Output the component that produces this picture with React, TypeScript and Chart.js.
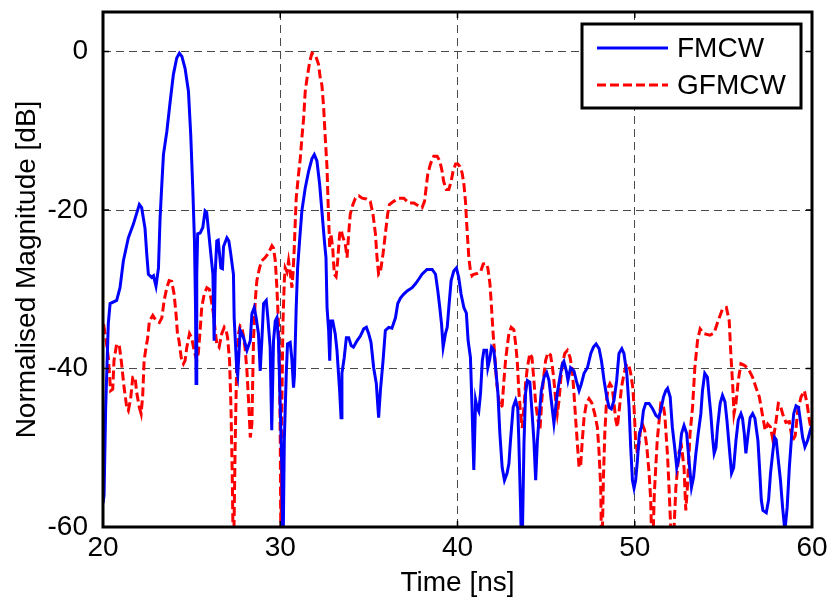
import React, { useEffect, useRef } from "react";
import { Chart, registerables } from "chart.js";

Chart.register(...registerables);

const xTicks = [20, 30, 40, 50, 60];
const yTicks = [-60, -40, -20, 0];
const seriesLabels = ["FMCW", "GFMCW"];
const xTitle = "Time [ns]";
const yTitle = "Normalised Magnitude [dB]";

const fmcwTime = [
  20.0, 20.06, 20.15, 20.3, 20.4, 20.77, 20.96, 21.15, 21.43, 21.71, 22.05, 22.18, 22.37, 22.47, 22.56, 22.75, 22.85, 22.99,
  23.13, 23.22, 23.32, 23.41, 23.6, 23.79, 23.97, 24.16, 24.31, 24.45, 24.63, 24.82, 24.95, 25.07, 25.16, 25.22, 25.25, 25.29,
  25.34, 25.48, 25.63, 25.76, 25.85, 26.05, 26.2, 26.27, 26.33, 26.42, 26.5, 26.65, 26.74, 26.8, 26.99, 27.1, 27.2, 27.36,
  27.4, 27.55, 27.6, 27.74, 27.93, 28.12, 28.31, 28.4, 28.53, 28.64, 28.77, 28.87, 28.96, 29.06, 29.21, 29.3, 29.43, 29.52,
  29.62, 29.72, 29.81, 29.9, 30.0, 30.1, 30.15, 30.23, 30.34, 30.41, 30.56, 30.65, 30.75, 30.8, 30.9, 30.98, 31.09, 31.22,
  31.41, 31.6, 31.79, 31.92, 32.07, 32.22, 32.35, 32.49, 32.58, 32.64, 32.73, 32.79, 32.86, 32.96, 33.1, 33.2, 33.35, 33.43,
  33.48, 33.61, 33.73, 33.86, 34.0, 34.13, 34.33, 34.52, 34.71, 34.86, 34.99, 35.12, 35.27, 35.42, 35.55, 35.65, 35.8, 35.93,
  36.12, 36.3, 36.5, 36.63, 36.78, 36.97, 37.16, 37.44, 37.63, 37.82, 38.0, 38.28, 38.57, 38.76, 38.89, 39.0, 39.1, 39.19,
  39.32, 39.42, 39.51, 39.64, 39.79, 39.94, 40.07, 40.2, 40.36, 40.5, 40.6, 40.73, 40.82, 40.92, 41.02, 41.1, 41.2, 41.3,
  41.4, 41.49, 41.64, 41.71, 41.82, 41.92, 42.05, 42.15, 42.28, 42.39, 42.52, 42.65, 42.8, 42.9, 42.99, 43.14, 43.28, 43.4,
  43.46, 43.56, 43.63, 43.75, 43.84, 43.94, 44.08, 44.21, 44.31, 44.41, 44.5, 44.6, 44.73, 44.88, 45.03, 45.16, 45.29, 45.44,
  45.54, 45.63, 45.78, 45.92, 46.0, 46.14, 46.23, 46.38, 46.57, 46.7, 46.86, 46.98, 47.14, 47.33, 47.52, 47.67, 47.82, 47.99,
  48.12, 48.27, 48.42, 48.55, 48.68, 48.83, 48.98, 49.11, 49.27, 49.39, 49.55, 49.68, 49.77, 49.87, 49.96, 50.05, 50.15, 50.26,
  50.38, 50.49, 50.62, 50.81, 50.99, 51.19, 51.34, 51.47, 51.62, 51.75, 51.85, 52.0, 52.12, 52.25, 52.37, 52.5, 52.64, 52.78,
  52.93, 53.06, 53.2, 53.32, 53.45, 53.58, 53.73, 53.82, 53.95, 54.1, 54.2, 54.29, 54.39, 54.48, 54.58, 54.67, 54.82, 54.95,
  55.09, 55.2, 55.33, 55.46, 55.58, 55.71, 55.84, 55.99, 56.08, 56.18, 56.27, 56.4, 56.51, 56.65, 56.78, 56.95, 57.04, 57.14,
  57.23, 57.42, 57.55, 57.66, 57.8, 57.89, 57.98, 58.1, 58.22, 58.34, 58.47, 58.6, 58.72, 58.86, 58.97, 59.1, 59.24, 59.34,
  59.47, 59.6, 59.75, 59.9, 60.0,
];
const fmcwDb = [
  -57, -56, -45, -34.3, -31.8, -31.4, -29.8, -26.4, -23.5, -21.8, -19.3, -19.7, -22.3, -25.6, -28.1, -28.5, -28.3, -29.6,
  -27.3, -21.0, -16.7, -13.0, -10.1, -6.3, -2.9, -0.8, -0.2, -0.6, -2.1, -5.0, -10.5, -17.6, -23.9, -32.3, -41.9, -28.1,
  -23.0, -22.9, -22.2, -20.1, -20.3, -24.8, -28.1, -36.5, -28, -23.9, -23.8, -27.3, -27.4, -24.6, -23.5, -23.9, -25.4, -28.1,
  -33.6, -40.3, -40.9, -35.2, -36.1, -37.7, -36.5, -33.1, -32.3, -33.6, -35.6, -40.3, -36.5, -31.8, -31.4, -33.6, -37.3, -47.8,
  -36.5, -34.0, -33.6, -36.5, -44.9, -53.2, -65, -49, -40.6, -36.9, -36.7, -38.7, -42.4, -40.9, -32.3, -27.3, -23.9, -20.1,
  -17.2, -15.1, -13.5, -13.0, -13.8, -16.7, -20.1, -23.9, -26.0, -32.3, -35.2, -39, -34, -34, -35.6, -37.7, -42.8, -46.2,
  -40.6, -38.6, -36.1, -36.1, -37.1, -37.3, -36.5, -35.9, -35.0, -34.8, -35.6, -36.7, -39.9, -41.9, -46.2, -42.8, -39, -35.2,
  -34.8, -34.9, -33.6, -31.8, -31.1, -30.6, -30.2, -29.8, -29.3, -28.7, -28.1, -27.5, -27.5, -28.1, -30.2, -32.3, -34.4, -37.3,
  -35.6, -34.8, -32.3, -28.9, -27.7, -27.3, -28.5, -30.6, -32.3, -33, -36.5, -38.6, -44.9, -52.8, -44, -44.9, -45.4, -43.1,
  -39, -37.7, -37.7, -39.9, -38.8, -37.3, -37.7, -39.9, -43.1, -48.2, -52.5, -54.1, -53.2, -52, -49.1, -44.9, -44, -45,
  -49.1, -57.5, -65, -49.5, -43.1, -41.5, -41.7, -45.7, -49.1, -54.1, -49.4, -46.2, -42.8, -41.1, -40.5, -41.5, -44, -46.9,
  -44.9, -43.1, -41.1, -39.4, -39.1, -40.3, -41.5, -39.9, -40.3, -41.5, -42.8, -42, -40.6, -39.9, -38.1, -37.3, -36.9, -37.5,
  -39, -41.5, -43.6, -44.9, -45.1, -44, -41.5, -38.1, -37.5, -38.1, -40.6, -44.9, -49.9, -54.1, -55.1, -54.1, -51.6, -48.2,
  -47.4, -45.3, -44.4, -44.4, -45, -45.9, -46.2, -45.3, -43.6, -42.8, -42.5, -43.6, -47.4, -49.9, -52.5, -51.2, -48.2, -47.2,
  -48.2, -51.6, -55, -53.7, -50.7, -48.2, -45.7, -42.8, -40.6, -41.1, -43.6, -45.7, -48.7, -50.7, -50, -47.4, -44.4, -43.4,
  -44.2, -46.5, -49.9, -53.2, -52.5, -49.1, -46.5, -45.7, -46.3, -48.2, -50.7, -48.2, -46.2, -45.7, -46.3, -49.1, -52.5, -56.6,
  -57.9, -58.2, -56.6, -53.2, -50.3, -48.7, -49, -51.6, -54.1, -57.5, -60.5, -57.5, -52.5, -48.2, -45.7, -44.7, -44.9, -46.5,
  -48.7, -49.9, -49.1, -47.8, -47.2,
];

const gfmcwTime = [
  20.0, 20.06, 20.15, 20.3, 20.43, 20.55, 20.62, 20.77, 20.92, 21.05, 21.19, 21.34, 21.43, 21.56, 21.68, 21.81, 21.9, 22.05,
  22.15, 22.24, 22.32, 22.43, 22.51, 22.62, 22.81, 23.0, 23.18, 23.32, 23.45, 23.6, 23.73, 23.88, 24.01, 24.12, 24.2, 24.29,
  24.41, 24.54, 24.63, 24.73, 24.88, 25.0, 25.14, 25.29, 25.38, 25.48, 25.57, 25.71, 25.86, 26.0, 26.14, 26.23, 26.33, 26.42,
  26.55, 26.7, 26.84, 26.95, 27.03, 27.14, 27.22, 27.29, 27.36, 27.46, 27.55, 27.65, 27.74, 27.84, 27.93, 28.02, 28.12, 28.21,
  28.31, 28.4, 28.49, 28.59, 28.68, 28.83, 28.96, 29.15, 29.34, 29.53, 29.62, 29.72, 29.81, 29.9, 29.96, 30.0, 30.04, 30.09,
  30.15, 30.23, 30.28, 30.38, 30.47, 30.56, 30.66, 30.72, 30.79, 30.9, 31.03, 31.13, 31.22, 31.32, 31.41, 31.51, 31.66, 31.79,
  31.98, 32.16, 32.26, 32.35, 32.45, 32.54, 32.64, 32.69, 32.75, 32.79, 32.86, 32.96, 33.05, 33.15, 33.24, 33.35, 33.43, 33.52,
  33.67, 33.77, 33.86, 33.95, 34.1, 34.24, 34.43, 34.62, 34.86, 35.08, 35.23, 35.37, 35.46, 35.55, 35.65, 35.8, 35.93, 36.06,
  36.16, 36.4, 36.69, 36.97, 37.25, 37.54, 37.82, 38.0, 38.14, 38.23, 38.32, 38.47, 38.66, 38.85, 39.0, 39.13, 39.22, 39.36,
  39.51, 39.64, 39.75, 39.89, 40.02, 40.13, 40.26, 40.36, 40.45, 40.51, 40.58, 40.64, 40.73, 40.82, 40.92, 41.1, 41.3, 41.45,
  41.6, 41.71, 41.83, 41.92, 42.01, 42.11, 42.2, 42.28, 42.39, 42.52, 42.62, 42.71, 42.8, 42.9, 43.03, 43.18, 43.28, 43.37,
  43.46, 43.56, 43.65, 43.75, 43.84, 43.94, 44.08, 44.2, 44.31, 44.41, 44.54, 44.65, 44.73, 44.84, 44.97, 45.1, 45.25, 45.36,
  45.44, 45.54, 45.63, 45.73, 45.82, 45.92, 46.05, 46.2, 46.35, 46.48, 46.57, 46.67, 46.76, 46.86, 46.95, 47.04, 47.14, 47.27,
  47.42, 47.57, 47.74, 47.89, 47.99, 48.08, 48.14, 48.23, 48.31, 48.41, 48.5, 48.6, 48.73, 48.83, 48.93, 49.02, 49.14, 49.25,
  49.4, 49.55, 49.68, 49.77, 49.89, 49.96, 50.05, 50.15, 50.25, 50.34, 50.43, 50.56, 50.68, 50.81, 50.9, 50.99, 51.1, 51.27,
  51.47, 51.6, 51.7, 51.85, 51.94, 52.12, 52.32, 52.5, 52.64, 52.78, 52.88, 52.97, 53.12, 53.26, 53.39, 53.54, 53.69, 53.9,
  54.24, 54.48, 54.7, 54.95, 55.17, 55.33, 55.42, 55.52, 55.6, 55.71, 55.84, 55.99, 56.18, 56.4, 56.65, 56.84, 57.03, 57.23,
  57.36, 57.5, 57.66, 57.8, 57.95, 58.1, 58.2, 58.34, 58.53, 58.72, 58.9, 59.05, 59.2, 59.38, 59.57, 59.72, 59.85, 60.0,
];
const gfmcwDb = [
  -35, -34.8, -36, -38.6, -42.8, -42.6, -39, -36.9, -37.1, -39.4, -42.4, -44.9, -45.3, -43.8, -41.1, -41.1, -43, -44.9,
  -45.7, -43.4, -39, -37.3, -36.3, -34, -33.3, -34, -34.2, -33.6, -31.4, -29.8, -28.9, -29.0, -30.6, -33.1, -35.6, -36.5,
  -38.6, -39.4, -39, -37.3, -35.6, -36.1, -37.7, -39, -38, -35.2, -32.3, -30.6, -29.8, -30, -31.8, -33.1, -35.2, -36.9,
  -37.3, -35.6, -34.8, -35.2, -36.1, -39, -44.9, -53.2, -65, -49.1, -38.6, -35.6, -34.6, -34.8, -36, -37.5, -40.3, -44,
  -48.7, -47, -36.5, -31.4, -28.9, -27.3, -26.4, -26.0, -25.4, -24.5, -24.8, -26.4, -29.8, -34.4, -40.6, -49.1, -65, -44.9,
  -34.4, -28.9, -27.3, -27.8, -26.4, -27.8, -29.8, -28, -24.8, -18.5, -15.5, -13.5, -10.9, -8.4, -5, -3.4, -1.3, -0.2,
  -0.4, -1.6, -3.4, -4.2, -7.1, -10.9, -14.7, -18.5, -22.3, -24.8, -23, -24.8, -28.1, -28.4, -26.4, -23, -22.5, -23.3,
  -24.3, -26, -23, -20.5, -19.3, -18.5, -18.2, -18.5, -18.6, -18.9, -20.5, -23, -26, -28.1, -27.8, -25.5, -23, -20.5,
  -19.3, -18.9, -18.5, -18.5, -19.1, -19.1, -19.5, -19.7, -18.9, -17.2, -15.5, -14.2, -13.2, -13.2, -13.8, -15.1, -16.4, -17.4,
  -17.4, -16.4, -15.1, -14.2, -14.2, -14.5, -15.3, -16.7, -18.9, -21.4, -23.9, -26, -27.7, -28.3, -28.1, -28, -27.8, -26.8,
  -26.7, -27.3, -29.3, -32.3, -35.6, -38.6, -41.5, -43.1, -44.9, -44.7, -41.5, -39, -37.3, -35.6, -34.8, -35.1, -36.9, -39,
  -42.8, -45.7, -47.5, -44.9, -41.9, -39.9, -38.1, -38.6, -41.5, -44.4, -46.5, -47.8, -44.9, -41.5, -39, -38, -38.3, -39.9,
  -41.5, -44, -45.7, -44, -41.5, -39.4, -38.1, -37.7, -38.6, -40.3, -43.1, -46.5, -49.4, -52.5, -52.2, -49.1, -46.2, -44.4,
  -43.8, -44.3, -45.7, -47.4, -50.7, -55, -65, -54, -48.2, -44, -42.4, -41.9, -42.4, -44.4, -46.5, -47.4, -44.9, -42.4,
  -40.6, -39.4, -39.7, -40.6, -42.4, -44.9, -49.1, -50.7, -49.4, -47.4, -47, -47.8, -49.9, -53.2, -56.6, -65, -56, -49,
  -44.4, -44.5, -46, -51, -55.3, -65, -55, -50.5, -49.9, -52.5, -57.9, -55, -48.2, -44.9, -39.9, -36.5, -35, -35.6,
  -35.8, -35.5, -34, -32.5, -32.3, -34, -38.1, -41.9, -45.7, -44.4, -41.5, -39.4, -39.6, -40, -41.1, -42.4, -43.6, -46.2,
  -47.8, -47, -47.4, -49.1, -47, -44.4, -44.5, -45.7, -46.8, -46.7, -49.1, -48.5, -45.3, -43.6, -42.8, -44.4, -46.5, -48.2,
];

const FONT = "'Liberation Sans', Arial, Helvetica, sans-serif";

const toPoints = (xs: number[], ys: number[]) => xs.map((x, i) => ({ x, y: ys[i] }));

const framePlugin = {
  id: "matlabFrame",
  afterDatasetsDraw(chart: any) {
    const { ctx, chartArea, scales } = chart;
    const { left, right, top, bottom } = chartArea;
    ctx.save();
    ctx.strokeStyle = "#000";
    ctx.lineWidth = 1.5;
    ctx.setLineDash([]);
    const tl = 6;
    xTicks.forEach((v) => {
      const px = scales.x.getPixelForValue(v);
      ctx.beginPath();
      ctx.moveTo(px, bottom);
      ctx.lineTo(px, bottom - tl);
      ctx.moveTo(px, top);
      ctx.lineTo(px, top + tl);
      ctx.stroke();
    });
    yTicks.forEach((v) => {
      const py = scales.y.getPixelForValue(v);
      ctx.beginPath();
      ctx.moveTo(left, py);
      ctx.lineTo(left + tl, py);
      ctx.moveTo(right, py);
      ctx.lineTo(right - tl, py);
      ctx.stroke();
    });
    ctx.lineWidth = 3;
    ctx.strokeRect(left, top, right - left, bottom - top);
    ctx.restore();
  },
  afterDraw(chart: any) {
    const { ctx, chartArea } = chart;
    const boxW = 219;
    const boxH = 84;
    const bx = chartArea.right - 11 - boxW;
    const by = chartArea.top + 12;
    ctx.save();
    ctx.fillStyle = "#fff";
    ctx.fillRect(bx, by, boxW, boxH);
    ctx.lineWidth = 3;
    ctx.strokeStyle = "#000";
    ctx.setLineDash([]);
    ctx.strokeRect(bx, by, boxW, boxH);
    chart.data.datasets.forEach((ds: any, i: number) => {
      const cy = by + 24 + i * 37;
      ctx.beginPath();
      ctx.strokeStyle = ds.borderColor;
      ctx.lineWidth = 3;
      ctx.setLineDash(ds.borderDash || []);
      ctx.moveTo(bx + 15, cy);
      ctx.lineTo(bx + 86, cy);
      ctx.stroke();
      ctx.setLineDash([]);
      ctx.fillStyle = "#000";
      ctx.font = `28px ${FONT}`;
      ctx.textBaseline = "middle";
      ctx.textAlign = "left";
      ctx.fillText(ds.label, bx + 95, cy + 1);
    });
    ctx.restore();
  },
};

export default function App() {
  const canvasRef = useRef<HTMLCanvasElement | null>(null);

  useEffect(() => {
    if (!canvasRef.current) return;
    const chart = new Chart(canvasRef.current, {
      type: "line",
      data: {
        datasets: [
          {
            label: seriesLabels[0],
            data: toPoints(fmcwTime, fmcwDb),
            borderColor: "#0000ff",
            borderWidth: 3,
            pointRadius: 0,
            tension: 0,
            fill: false,
          },
          {
            label: seriesLabels[1],
            data: toPoints(gfmcwTime, gfmcwDb),
            borderColor: "#ff0000",
            borderWidth: 3,
            borderDash: [9, 4],
            pointRadius: 0,
            tension: 0,
            fill: false,
          },
        ],
      },
      options: {
        animation: false,
        responsive: false,
        maintainAspectRatio: false,
        layout: { padding: { top: 12, right: 19, left: 0, bottom: 0 } },
        plugins: { legend: { display: false }, tooltip: { enabled: false } },
        scales: {
          x: {
            type: "linear",
            min: 20,
            max: 60,
            afterBuildTicks: (scale: any) => {
              scale.ticks = xTicks.map((v) => ({ value: v }));
            },
            afterFit: (scale: any) => {
              scale.height = 75;
              scale.paddingLeft = 0;
              scale.paddingRight = 0;
            },
            grid: { color: "#4a4a4a", lineWidth: 1, drawTicks: false },
            border: { display: false, dash: [8, 5] },
            ticks: {
              color: "#000",
              padding: 4,
              maxRotation: 0,
              font: { family: FONT, size: 28 },
              callback: (v: any) => String(v),
            },
            title: {
              display: true,
              text: xTitle,
              color: "#000",
              font: { family: FONT, size: 28 },
              padding: { top: 0, bottom: 2 },
            },
          },
          y: {
            type: "linear",
            min: -60,
            max: 5,
            afterBuildTicks: (scale: any) => {
              scale.ticks = yTicks.map((v) => ({ value: v }));
            },
            afterFit: (scale: any) => {
              scale.width = 103;
              scale.paddingTop = 0;
              scale.paddingBottom = 0;
            },
            grid: { color: "#4a4a4a", lineWidth: 1, drawTicks: false },
            border: { display: false, dash: [8, 5] },
            ticks: {
              color: "#000",
              padding: 15,
              font: { family: FONT, size: 28 },
              callback: (v: any) => String(v),
            },
            title: {
              display: true,
              text: yTitle,
              color: "#000",
              font: { family: FONT, size: 28 },
              padding: { top: 10, bottom: 0 },
            },
          },
        },
      },
      plugins: [framePlugin],
    });
    return () => chart.destroy();
  }, []);

  return (
    <div style={{ position: "absolute", left: 0, top: 0, width: 831, height: 602, background: "#fff" }}>
      <canvas ref={canvasRef} width={831} height={602} style={{ width: 831, height: 602, display: "block" }} />
    </div>
  );
}
